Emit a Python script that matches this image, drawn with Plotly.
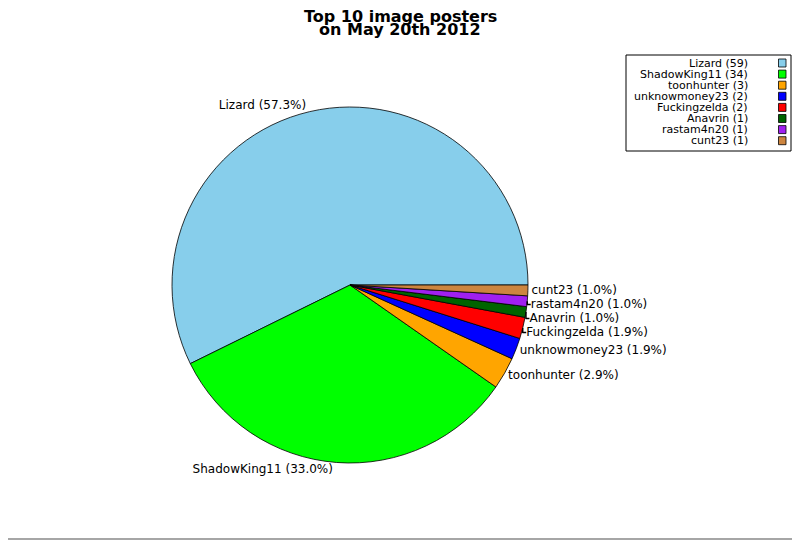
import plotly.graph_objects as go

# data
posters = ["Lizard", "ShadowKing11", "toonhunter", "unknowmoney23",
           "Fuckingzelda", "Anavrin", "rastam4n20", "cunt23"]
counts = [59, 34, 3, 2, 2, 1, 1, 1]
slice_colors = ["#87CEEB", "#00FF00", "#FFA500", "#0000FF",
                "#FF0000", "#006400", "#A020F0", "#CD853F"]
title_lines = ["Top 10 image posters", "on May 20th 2012"]

# the page puts an 8px margin round the plot, so work in reference
# pixels and shift by that offset
OFF = 8
W, H = 800 - OFF, 540 - OFF
font_family = "DejaVu Sans, Verdana, sans-serif"


def px(x):
    return (x - OFF) / W


def py(y):
    return 1 - (y - OFF) / H


# first slice must start at 3 o'clock and run counterclockwise;
# plotly ends the first ccw slice at `rotation`, so back it off
first_share = 360 * counts[0] / sum(counts)
rot = 90 - first_share

fig = go.Figure()

fig.add_trace(go.Pie(
    labels=posters,
    values=counts,
    sort=False,
    direction="counterclockwise",
    rotation=rot,
    marker=dict(colors=slice_colors, line=dict(color="black", width=0.8)),
    textposition="outside",
    texttemplate="%{label} (%{percent:.1%})",
    outsidetextfont=dict(family=font_family, size=12, color="black"),
    showlegend=False,
    hoverinfo="label+value+percent",
    domain=dict(x=[px(172), px(528)], y=[py(463), py(107)]),
))

# legend built by hand: text right aligned, colour box on the right
top = 63
step = 11.1
for i, (name, n) in enumerate(zip(posters, counts)):
    yc = top + i * step
    fig.add_annotation(
        x=px(750), y=py(yc), xref="paper", yref="paper",
        xanchor="right", yanchor="middle", showarrow=False,
        text=f"{name} ({n})",
        font=dict(family=font_family, size=11, color="black"),
    )
    fig.add_shape(
        type="rect", xref="paper", yref="paper",
        x0=px(778.5), x1=px(786), y0=py(yc + 4), y1=py(yc - 4),
        fillcolor=slice_colors[i], line=dict(color="black", width=0.8),
    )

# legend frame
fig.add_shape(type="rect", xref="paper", yref="paper",
              x0=px(626), x1=px(791), y0=py(151), y1=py(55),
              line=dict(color="black", width=1), fillcolor="rgba(0,0,0,0)")

# right and bottom edge of the outer border
fig.add_shape(type="line", xref="paper", yref="paper",
              x0=px(798.5), x1=px(798.5), y0=0, y1=1,
              line=dict(color="#888888", width=1.5))
fig.add_shape(type="line", xref="paper", yref="paper",
              x0=0, x1=1, y0=py(539), y1=py(539),
              line=dict(color="#888888", width=1.5))

# title, one annotation per line to keep the lines tight
for i, line in enumerate(title_lines):
    fig.add_annotation(
        x=px(400), y=py(16 + i * 14), xref="paper", yref="paper",
        xanchor="center", yanchor="middle", showarrow=False,
        text=f"<b>{line}</b>",
        font=dict(family=font_family, size=16, color="black"),
    )

fig.update_layout(
    width=W, height=H,
    margin=dict(l=0, r=0, t=0, b=0),
    paper_bgcolor="white",
    plot_bgcolor="white",
    font=dict(family=font_family),
)

fig.write_html("out.html")
